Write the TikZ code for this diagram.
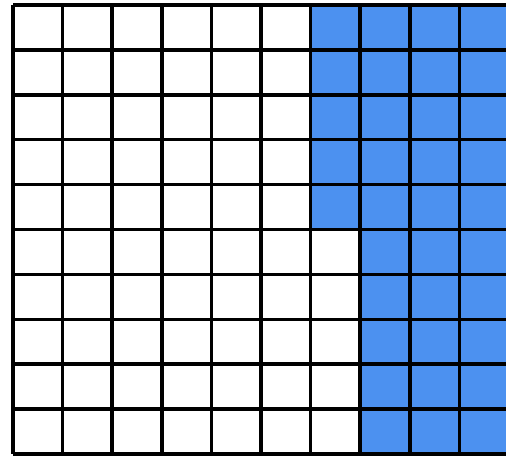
\documentclass[tikz,border=0pt]{standalone}
\definecolor{cellblue}{RGB}{76,145,240}
\begin{document}
\begin{tikzpicture}[x=0.5pt,y=-0.5pt,
  gridline/.style={black,line width=1.8pt,line cap=square},
  bluecell/.style={fill=cellblue}]
\useasboundingbox (0,0) rectangle (506,459);
\clip (0,0) rectangle (506,459);
\fill[white] (0,0) rectangle (506,459);
% shaded cells
\fill[bluecell] (310,5) rectangle (509,230);
\fill[bluecell] (360,230) rectangle (509,454);
% vertical lines
\foreach \i in {0,...,10} {
  \draw[gridline] ({13+49.6*\i},5) -- ({13+49.6*\i},454);
}
% horizontal lines
\foreach \j in {0,...,10} {
  \draw[gridline] (13,{5+44.9*\j}) -- (509,{5+44.9*\j});
}
\end{tikzpicture}
\end{document}
